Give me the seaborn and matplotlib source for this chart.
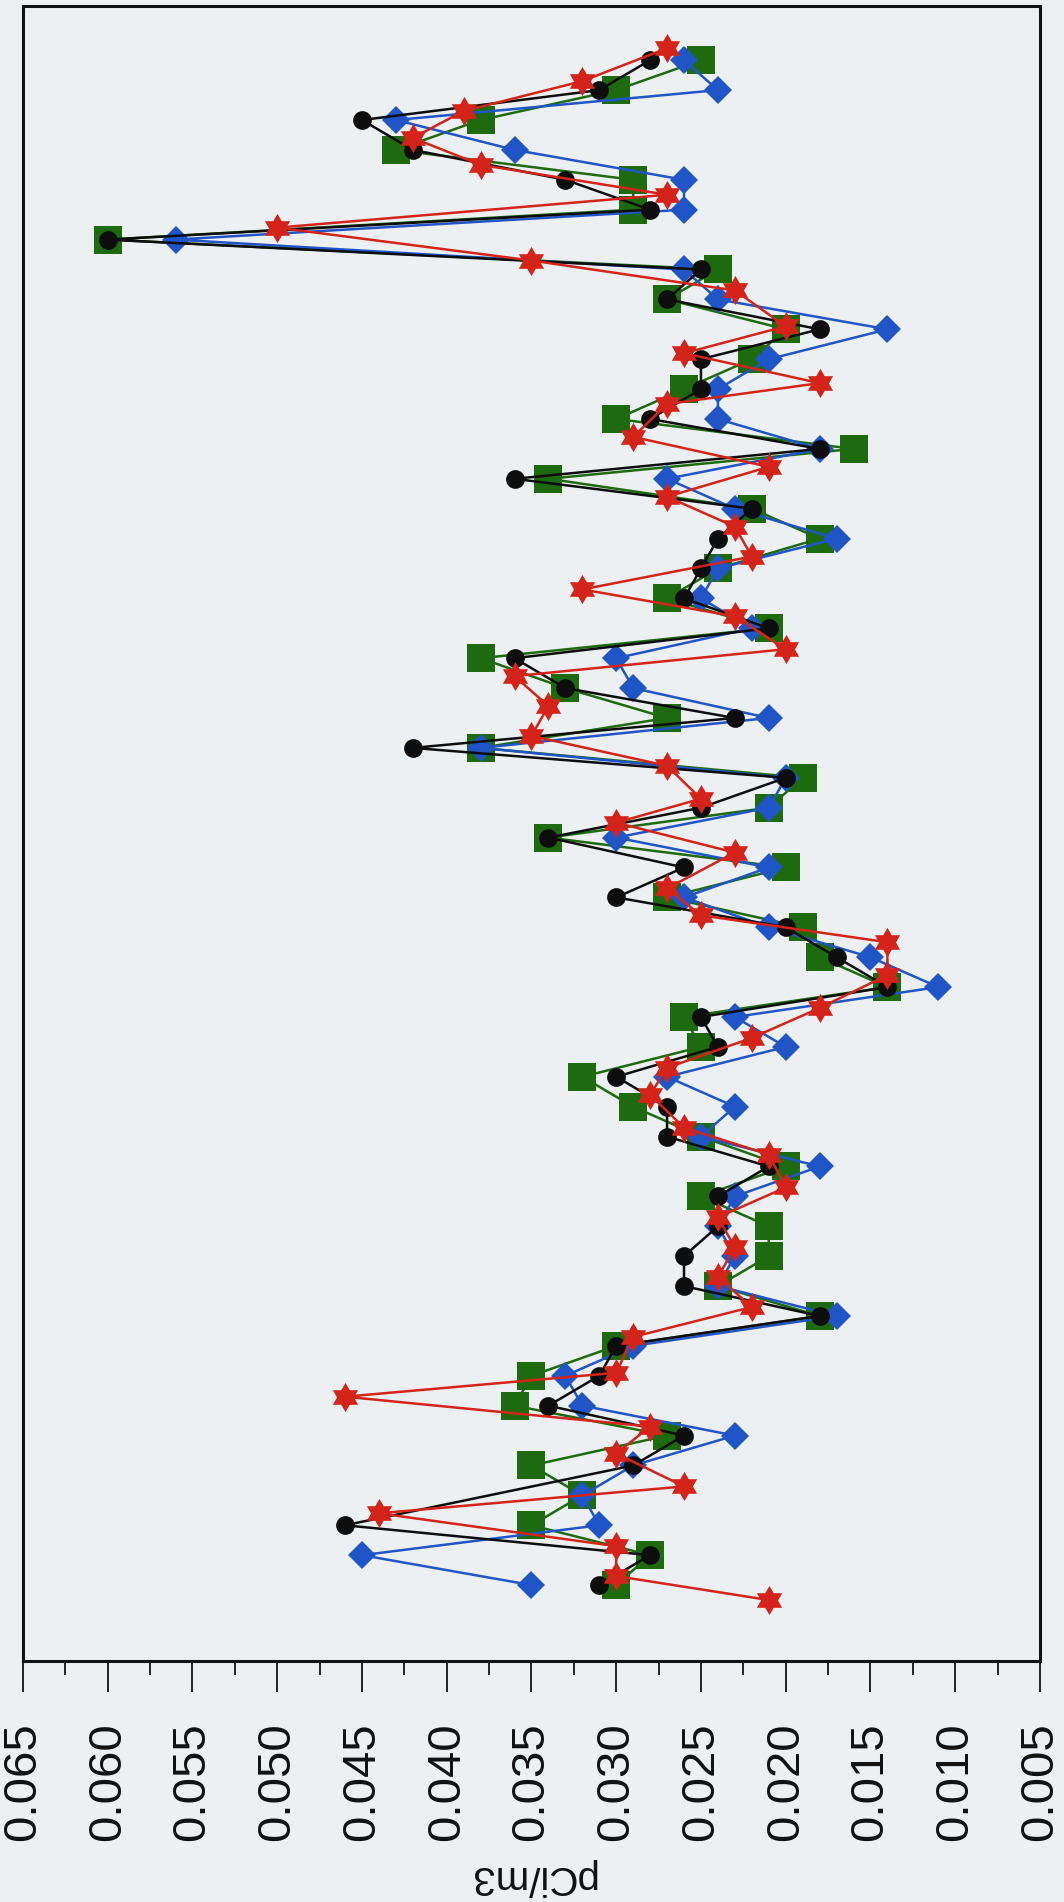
import numpy as np
import pandas as pd
import matplotlib
matplotlib.use("Agg")
import matplotlib.pyplot as plt
from matplotlib.ticker import FormatStrFormatter, MultipleLocator
import seaborn as sns

sns.set_theme(style="white")
plt.rcParams['font.family'] = ['Liberation Sans', 'DejaVu Sans']

# ---- data (weekly samples, bottom of page = first week) ----
weeks = list(range(52))

blue_vals = [0.035, 0.045, 0.031, 0.032, 0.029, 0.023, 0.032, 0.033, 0.029, 0.017,
             0.024, 0.023, 0.024, 0.023, 0.018, 0.025, 0.023, 0.027, 0.020, 0.023,
             0.011, 0.015, 0.021, 0.026, 0.021, 0.030, 0.021, 0.020, 0.038, 0.021,
             0.029, 0.030, 0.022, 0.025, 0.024, 0.017, 0.023, 0.027, 0.018, 0.024,
             0.024, 0.021, 0.014, 0.024, 0.026, 0.056, 0.026, 0.026, 0.036, 0.043,
             0.024, 0.026]

black_vals = [0.031, 0.028, 0.046, None, 0.029, 0.026, 0.034, 0.031, 0.030, 0.018,
              0.026, 0.026, 0.024, 0.024, 0.021, 0.027, 0.027, 0.030, 0.024, 0.025,
              0.014, 0.017, 0.020, 0.030, 0.026, 0.034, 0.025, 0.020, 0.042, 0.023,
              0.033, 0.036, 0.021, 0.026, 0.025, 0.024, 0.022, 0.036, 0.018, 0.028,
              0.025, 0.025, 0.018, 0.027, 0.025, 0.060, 0.028, 0.033, 0.042, 0.045,
              0.031, 0.028]

green_vals = [0.030, 0.028, 0.035, 0.032, 0.035, 0.027, 0.036, 0.035, 0.030, 0.018,
              0.024, 0.021, 0.021, 0.025, 0.020, 0.025, 0.029, 0.032, 0.025, 0.026,
              0.014, 0.018, 0.019, 0.027, 0.020, 0.034, 0.021, 0.019, 0.038, 0.027,
              0.033, 0.038, 0.021, 0.027, 0.024, 0.018, 0.022, 0.034, 0.016, 0.030,
              0.026, 0.022, 0.020, 0.027, 0.024, 0.060, 0.029, 0.029, 0.043, 0.038,
              0.030, 0.025]

red_weeks = [-0.5, 0.3, 1.3, 2.4, 3.3, 4.4, 5.3, 6.3, 7.1, 8.3,
             9.3, 10.3, 11.3, 12.3, 13.3, 14.4, 15.3, 16.4, 17.3, 18.3,
             19.3, 20.4, 21.5, 22.4, 23.3, 24.5, 25.5, 26.3, 27.4, 28.4,
             29.4, 30.4, 31.3, 32.4, 33.3, 34.4, 35.4, 36.4, 37.4, 38.4,
             39.5, 40.2, 41.2, 42.1, 43.3, 44.3, 45.4, 46.5, 47.5, 48.4,
             49.3, 50.3, 51.4]
red_vals = [0.021, 0.030, 0.030, 0.044, 0.026, 0.030, 0.028, 0.046, 0.030, 0.029,
            0.022, 0.024, 0.023, 0.024, 0.020, 0.021, 0.026, 0.028, 0.027, 0.022,
            0.018, 0.014, 0.014, 0.025, 0.027, 0.023, 0.030, 0.025, 0.027, 0.035,
            0.034, 0.036, 0.020, 0.023, 0.032, 0.022, 0.023, 0.027, 0.021, 0.029,
            0.027, 0.018, 0.026, 0.020, 0.023, 0.035, 0.050, 0.027, 0.038, 0.042,
            0.039, 0.032, 0.027]

x_ticks = [0.065, 0.060, 0.055, 0.050, 0.045, 0.040, 0.035,
           0.030, 0.025, 0.020, 0.015, 0.010, 0.005]

# six-pointed star marker (style only)
_ang = np.deg2rad(90 + 30 * np.arange(12))
_rad = np.where(np.arange(12) % 2 == 0, 1.0, 0.58)
HEXAGRAM = list(zip(_rad * np.cos(_ang), _rad * np.sin(_ang)))

BG = "#edf0f2"
fig = plt.figure(figsize=(10.64, 19.02), dpi=100, facecolor=BG)
ax = fig.add_axes([0.0216, 0.1267, 0.9558, 0.8701])
ax.set_facecolor(BG)

series = [
    (weeks, green_vals, "s", 20, "#1d6b0e"),
    (weeks, blue_vals, "D", 14.5, "#1f55c6"),
    (weeks, black_vals, "o", 13.5, "#0d0d0d"),
    (red_weeks, red_vals, HEXAGRAM, 21, "#d42419"),
]
for w, v, m, ms, c in series:
    df = pd.DataFrame({"week": w, "value": v}).dropna()
    sns.lineplot(data=df, x="value", y="week", orient="y", sort=False,
                 estimator=None, color=c, linewidth=1.8, marker=m,
                 markersize=ms, markeredgewidth=0, markeredgecolor=c, ax=ax)

ax.set_xlim(0.065, 0.005)
ax.set_ylim(-2.54, 52.81)
ax.set_xticks(x_ticks)
ax.xaxis.set_major_formatter(FormatStrFormatter("%.3f"))
ax.xaxis.set_minor_locator(MultipleLocator(0.0025))
ax.tick_params(axis="x", which="major", direction="out", length=22, width=1.4,
               pad=22, labelsize=34, labelrotation=90, bottom=True, top=False,
               color="#222222", labelcolor="#111111")
ax.tick_params(axis="x", which="minor", direction="out", length=10, width=1.4,
               bottom=True, top=False, color="#222222")
ax.tick_params(axis="y", left=False, right=False, labelleft=False)
ax.set_ylabel("")
ax.set_xlabel("pCi/m3", fontsize=29, rotation=180, color="#111111")
ax.xaxis.set_label_coords(0.5, -0.1190)
for sp in ax.spines.values():
    sp.set_visible(True)
    sp.set_color("#111111")
    sp.set_linewidth(2.2)
ax.grid(False)

fig.savefig("out.png", dpi=100, facecolor=BG)
